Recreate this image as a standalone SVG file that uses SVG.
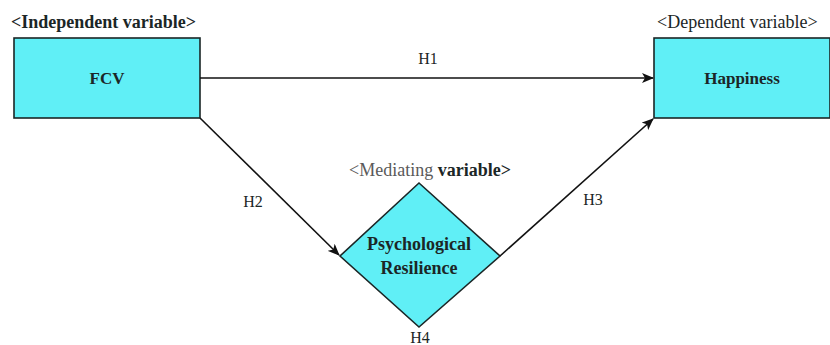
<svg xmlns="http://www.w3.org/2000/svg" width="830" height="345" viewBox="0 0 830 345">
<style>
.box{fill:#60eff6;stroke:#1b2626;stroke-width:1.6}
text{font-family:'Liberation Serif','DejaVu Serif',serif;fill:#1b2626}
.b{font-weight:bold}
.conn{stroke:#111;stroke-width:1.6;fill:none;marker-end:url(#ah)}
</style>
<defs>
<marker id="ah" viewBox="0 0 12 10" refX="11" refY="5" markerWidth="12" markerHeight="10" markerUnits="userSpaceOnUse" orient="auto">
<path d="M0,0 L12,5 L0,10 L3,5 Z" fill="#111"/>
</marker>
</defs>
<rect width="830" height="345" fill="#fff"/>
<g id="fcv">
<text class="b" x="11" y="28" font-size="18" font-family="Liberation Serif, serif">&lt;Independent variable&gt;</text>
<rect class="box" x="14" y="38" width="186" height="80"/>
<text class="b" x="107" y="84" font-size="17" text-anchor="middle" font-family="Liberation Serif, serif">FCV</text>
</g>
<g id="happiness">
<text x="657" y="28" font-size="18" font-family="Liberation Serif, serif">&lt;Dependent variable&gt;</text>
<rect class="box" x="654" y="38" width="176" height="80"/>
<text class="b" x="742" y="84" font-size="17" text-anchor="middle" font-family="Liberation Serif, serif">Happiness</text>
</g>
<g id="resilience">
<text x="430" y="176" font-size="18" text-anchor="middle" font-family="Liberation Serif, serif"><tspan fill="#5a5a5a">&lt;Mediating</tspan> <tspan class="b">variable&gt;</tspan></text>
<polygon class="box" points="419,183 500,256 419,327 340,256"/>
<text class="b" x="419" y="250" font-size="18" text-anchor="middle" font-family="Liberation Serif, serif">Psychological</text>
<text class="b" x="419" y="274" font-size="18" text-anchor="middle" font-family="Liberation Serif, serif">Resilience</text>
</g>
<g id="connectors">
<line class="conn" x1="200" y1="78" x2="653" y2="78"/>
<line class="conn" x1="200" y1="118" x2="339" y2="255"/>
<line class="conn" x1="500" y1="256" x2="653" y2="119"/>
</g>
<g id="labels" font-size="16">
<text x="428" y="64" text-anchor="middle" font-family="Liberation Serif, serif">H1</text>
<text x="253" y="207" text-anchor="middle" font-family="Liberation Serif, serif">H2</text>
<text x="593" y="205" text-anchor="middle" font-family="Liberation Serif, serif">H3</text>
<text x="420" y="343" text-anchor="middle" font-family="Liberation Serif, serif">H4</text>
</g>
</svg>
